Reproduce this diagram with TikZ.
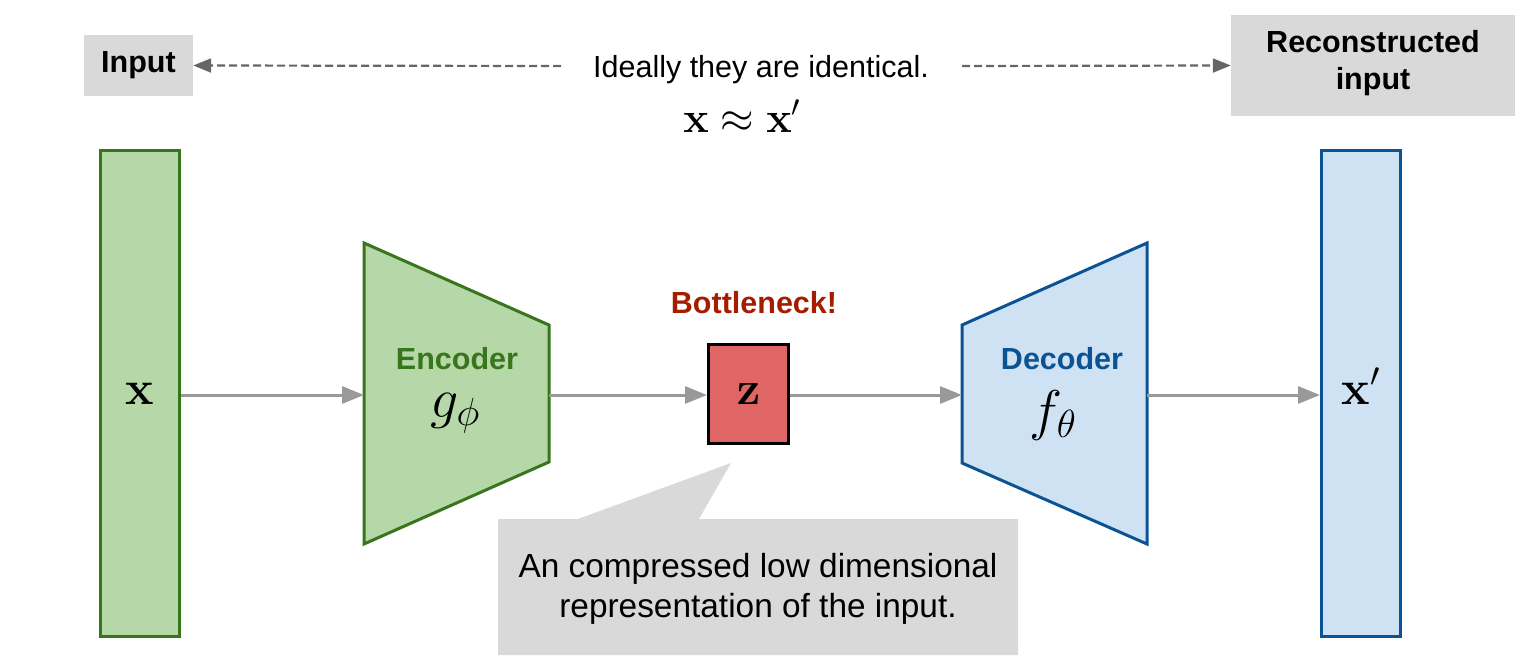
\RequirePackage{fix-cm}
\documentclass[tikz,border=0pt]{standalone}
\usepackage[no-math]{fontspec}
\setmainfont{Liberation Sans}
\usepackage{amsmath}
\usepackage{xcolor}
\usetikzlibrary{arrows.meta}
\definecolor{encline}{HTML}{38761D}
\definecolor{encfill}{HTML}{B6D7A8}
\definecolor{decline}{HTML}{0B5394}
\definecolor{decfill}{HTML}{CFE2F3}
\definecolor{zfill}{HTML}{E06666}
\definecolor{neckred}{HTML}{A61C00}
\definecolor{boxgray}{HTML}{D9D9D9}
\definecolor{flowgray}{HTML}{999999}
\definecolor{hintgray}{HTML}{666666}

\begin{document}
\begin{tikzpicture}[x=1pt, y=-1pt,
    txt/.style={font=\fontsize{30.5}{37}\selectfont},
    bold/.style={font=\fontsize{30.5}{37}\selectfont\bfseries},
    graybox/.style={fill=boxgray, inner sep=0pt, align=center},
    bar/.style={line width=3pt, minimum width=79pt, minimum height=486pt, inner sep=0pt,
        text height=21pt, text depth=0pt, font=\fontsize{48}{50}\selectfont},
    flow/.style={draw=flowgray, line width=3pt, -{Triangle[length=22pt,width=17pt]}},
    hint/.style={draw=hintgray, line width=2.2pt, dash pattern=on 8pt off 4pt,
        -{Triangle[length=18pt,width=14pt]}}]
    \useasboundingbox (0,0) rectangle (1530,666);

    % top row
    \node[graybox, bold, minimum width=109pt, minimum height=61pt] (inp) at (138.5,65.5) {Input};
    \node[graybox, bold, minimum width=284pt, minimum height=101pt] (rec) at (1373,65.5) {};
    \node[bold, align=center] (reclab) at (1373,63) {Reconstructed\\input};
    \node[txt, anchor=base] (ideal) at (761,78) {Ideally they are identical.};
    \node[anchor=base, font=\fontsize{43}{46}\selectfont] (same) at (742,132) {$\mathbf{x} \approx \mathbf{x}'$};
    \coordinate (dl) at (561,66);
    \coordinate (dr) at (962,66);
    \draw[hint] (dl) -- (inp.east);
    \draw[hint] (dr) -- (rec.west);

    % input and output
    \node[bar, draw=encline, fill=encfill] (xin) at (140,393.5) {$\mathbf{x}$};
    \node[bar, draw=decline, fill=decfill] (xout) at (1361,393.5) {$\mathbf{x}'$};

    % encoder
    \draw[draw=encline, fill=encfill, line width=3pt, line join=miter]
        (364,243) -- (549,325) -- (549,462) -- (364,544) -- cycle;
    \coordinate (encin) at (364,395);
    \coordinate (encout) at (549,395);
    \node[bold, text=encline, anchor=base] (enclab) at (457,369) {Encoder};
    \node[anchor=base, font=\fontsize{56}{60}\selectfont] (encfn) at (455,417) {$g_\phi$};

    % decoder
    \draw[draw=decline, fill=decfill, line width=3pt, line join=miter]
        (962,325) -- (1147,243) -- (1147,544) -- (962,463) -- cycle;
    \coordinate (decin) at (962,395);
    \coordinate (decout) at (1147,395);
    \node[bold, text=decline, anchor=base] (declab) at (1062,369) {Decoder};
    \node[anchor=base, font=\fontsize{56}{60}\selectfont] (decfn) at (1053,429) {$f_\theta$};

    % bottleneck
    \node[draw=black, fill=zfill, line width=3pt, minimum width=80pt, minimum height=99pt,
        inner sep=0pt, text height=21pt, text depth=0pt, font=\fontsize{47}{50}\selectfont]
        (z) at (748.5,394) {$\mathbf{z}$};
    \node[bold, text=neckred, anchor=base] (neck) at (754,313) {Bottleneck!};

    % flow
    \draw[flow] (xin.east |- encin) -- (encin);
    \draw[flow] (encout) -- (z.west |- encout);
    \draw[flow] (z.east |- decin) -- (decin);
    \draw[flow] (decout) -- (xout.west |- decout);

    % callout
    \fill[boxgray] (498,519) -- (578,519) -- (731,463) -- (699,519) -- (1018,519)
        -- (1018,655) -- (498,655) -- cycle;
    \node[align=center, font=\fontsize{33.4}{40}\selectfont] (note) at (758,589)
        {An compressed low dimensional\\representation of the input.};
\end{tikzpicture}
\end{document}
